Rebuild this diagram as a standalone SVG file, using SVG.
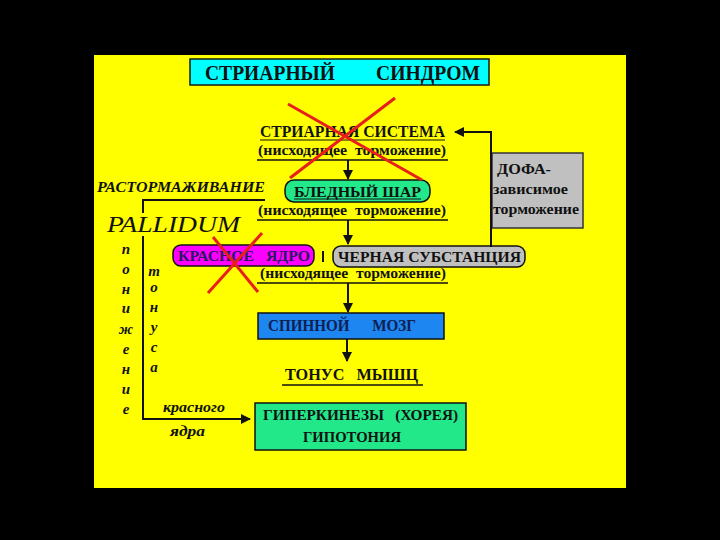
<svg xmlns="http://www.w3.org/2000/svg" width="720" height="540" viewBox="0 0 720 540" xml:space="preserve">
<defs>
<style>
text{white-space:pre;}
.t{font-family:"Liberation Serif","DejaVu Serif",serif;font-weight:bold;fill:#111;}
.i{font-family:"Liberation Serif","DejaVu Serif",serif;font-style:italic;font-weight:bold;fill:#111;}
.ln{stroke:#111;stroke-width:2;fill:none;}
.red{stroke:#e8201c;stroke-width:3;}
</style>
<marker id="ah" viewBox="0 0 10 10" refX="9" refY="5" markerWidth="5" markerHeight="5" orient="auto">
<path d="M0,0 L10,5 L0,10 z" fill="#111"/>
</marker>
</defs>
<rect x="0" y="0" width="720" height="540" fill="#000"/>
<rect x="94" y="55" width="532" height="433" fill="#ffff00"/>

<g id="title">
<rect x="190" y="59" width="299" height="26" fill="#00ffff" stroke="#1a1a1a" stroke-width="1.5"/>
<text class="t" x="205" y="80" font-size="21" textLength="130" lengthAdjust="spacingAndGlyphs">СТРИАРНЫЙ</text>
<text class="t" x="376" y="80" font-size="21" textLength="104" lengthAdjust="spacingAndGlyphs">СИНДРОМ</text>
</g>

<g id="striatum">
<text class="t" x="260" y="137" font-size="17" textLength="185" lengthAdjust="spacingAndGlyphs">СТРИАРНАЯ СИСТЕМА</text>
<line x1="260" y1="140" x2="445" y2="140" stroke="#111" stroke-width="1"/>
<text class="t" x="258" y="155" font-size="15" textLength="188" lengthAdjust="spacingAndGlyphs">(нисходящее  торможение)</text>
<line x1="257" y1="160" x2="448" y2="160" stroke="#111" stroke-width="1.5"/>
</g>

<g id="pallidum-globe">
<rect x="285" y="180" width="145" height="22" rx="9" fill="#22e88a" stroke="#111" stroke-width="1.5"/>
<text class="t" x="294" y="197" font-size="15" textLength="127" lengthAdjust="spacingAndGlyphs">БЛЕДНЫЙ ШАР</text>
<line x1="294" y1="199" x2="421" y2="199" stroke="#111" stroke-width="1"/>
<text class="t" x="258" y="215" font-size="15" textLength="188" lengthAdjust="spacingAndGlyphs">(нисходящее  торможение)</text>
<line x1="257" y1="220" x2="448" y2="220" stroke="#111" stroke-width="1.5"/>
</g>

<g id="red-nucleus">
<rect x="173" y="245" width="141" height="21" rx="8" fill="#ff00ff" stroke="#111" stroke-width="1.5"/>
<text class="t" x="178" y="261" font-size="15" style="fill:#2a1a60" textLength="132" lengthAdjust="spacingAndGlyphs">КРАСНОЕ   ЯДРО</text>
</g>

<g id="substantia-nigra">
<rect x="333" y="246" width="192" height="21" rx="8" fill="#c0c0c0" stroke="#111" stroke-width="1.5"/>
<text class="t" x="338" y="262" font-size="15" textLength="183" lengthAdjust="spacingAndGlyphs">ЧЕРНАЯ СУБСТАНЦИЯ</text>
<text class="t" x="260" y="278" font-size="15" textLength="186" lengthAdjust="spacingAndGlyphs">(нисходящее  торможение)</text>
<line x1="257" y1="283" x2="448" y2="283" stroke="#111" stroke-width="1.5"/>
</g>

<g id="dopa">
<rect x="492" y="153" width="91" height="75" fill="#c0c0c0" stroke="#333" stroke-width="1.5"/>
<text class="t" x="497" y="174" font-size="15" textLength="54" lengthAdjust="spacingAndGlyphs">ДОФА-</text>
<text class="t" x="493" y="194" font-size="14" textLength="75" lengthAdjust="spacingAndGlyphs">зависимое</text>
<text class="t" x="493" y="214" font-size="14" textLength="86" lengthAdjust="spacingAndGlyphs">торможение</text>
</g>

<g id="spinal-cord">
<rect x="258" y="313" width="186" height="26" fill="#1e86f0" stroke="#111" stroke-width="1.5"/>
<text class="t" x="268" y="331" font-size="16" style="fill:#102050" textLength="148" lengthAdjust="spacingAndGlyphs">СПИННОЙ      МОЗГ</text>
</g>

<g id="muscle-tone">
<text class="t" x="285" y="380" font-size="16" textLength="133" lengthAdjust="spacingAndGlyphs">ТОНУС   МЫШЦ</text>
<line x1="282" y1="385" x2="423" y2="385" stroke="#111" stroke-width="1.5"/>
</g>

<g id="hyperkinesis">
<rect x="255" y="403" width="211" height="47" fill="#22e88a" stroke="#111" stroke-width="1.5"/>
<text class="t" x="263" y="420" font-size="15" textLength="195" lengthAdjust="spacingAndGlyphs">ГИПЕРКИНЕЗЫ   (ХОРЕЯ)</text>
<text class="t" x="303" y="442" font-size="15" textLength="98" lengthAdjust="spacingAndGlyphs">ГИПОТОНИЯ</text>
</g>

<g id="disinhibition">
<text class="i" x="97" y="192" font-size="14" textLength="168" lengthAdjust="spacingAndGlyphs">РАСТОРМАЖИВАНИЕ</text>
<text class="i" x="107" y="232" font-size="24" style="font-weight:normal" textLength="133" lengthAdjust="spacingAndGlyphs">PALLIDUM</text>
<g font-size="15" text-anchor="middle">
<text class="i" x="126" y="254">п</text>
<text class="i" x="126" y="274">о</text>
<text class="i" x="126" y="294">н</text>
<text class="i" x="126" y="313">и</text>
<text class="i" x="126" y="334">ж</text>
<text class="i" x="126" y="354">е</text>
<text class="i" x="126" y="374">н</text>
<text class="i" x="126" y="394">и</text>
<text class="i" x="126" y="414">е</text>
<text class="i" x="154" y="276">т</text>
<text class="i" x="154" y="292">о</text>
<text class="i" x="154" y="312">н</text>
<text class="i" x="154" y="332">у</text>
<text class="i" x="154" y="352">с</text>
<text class="i" x="154" y="372">а</text>
</g>
<text class="i" x="163" y="412" font-size="14" textLength="62" lengthAdjust="spacingAndGlyphs">красного</text>
<text class="i" x="170" y="436" font-size="14" textLength="35" lengthAdjust="spacingAndGlyphs">ядра</text>
</g>

<g id="connectors">
<line class="ln" x1="348" y1="160" x2="348" y2="179" marker-end="url(#ah)"/>
<line class="ln" x1="348" y1="220" x2="348" y2="244" marker-end="url(#ah)"/>
<line class="ln" x1="323" y1="251" x2="323" y2="262" stroke-width="1"/>
<line class="ln" x1="348" y1="283" x2="348" y2="312" marker-end="url(#ah)"/>
<line class="ln" x1="347" y1="339" x2="347" y2="361" marker-end="url(#ah)"/>
<polyline class="ln" points="491,247 491,132 455,132" marker-end="url(#ah)"/>
<polyline class="ln" points="265,200 143,200 143,213"/>
<polyline class="ln" points="143,236 143,419 250,419" stroke-width="2.5" marker-end="url(#ah)"/>
</g>

<g id="crosses">
<line class="red" x1="288" y1="104" x2="422" y2="180"/>
<line class="red" x1="395" y1="98" x2="290" y2="178"/>
<line class="red" x1="213" y1="237" x2="258" y2="292"/>
<line class="red" x1="262" y1="233" x2="208" y2="293"/>
</g>
</svg>
